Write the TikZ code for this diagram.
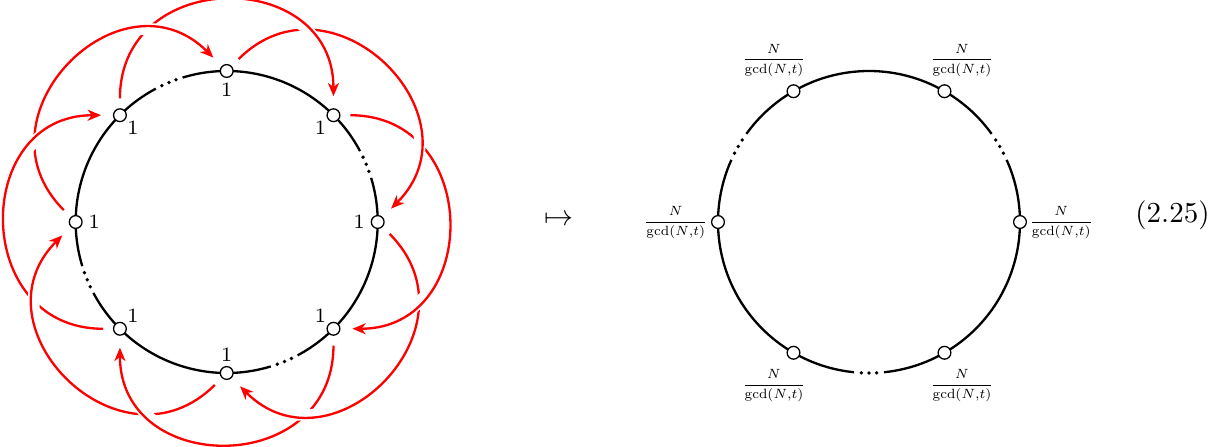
\documentclass[tikz,border=0pt]{standalone}
\usetikzlibrary{arrows.meta,calc}
\newcommand\gcdfrac{\scalebox{0.66}{$\displaystyle\frac{N}{\gcd(N{,}t)}$}}
\begin{document}
\begin{tikzpicture}[x=0.345pt,y=0.345pt,
  vtx/.style={circle,draw,fill=white,inner sep=0pt,minimum size=4.4pt,line width=0.45pt},
  ring/.style={line width=0.8pt},
  redline/.style={red,line width=0.8pt,-{Stealth[length=4.6pt,width=3.8pt,inset=1.4pt]},shorten <=3.4pt,shorten >=4.1pt},
  gapline/.style={white,line width=4pt,shorten <=3.4pt,shorten >=4.1pt},
  one/.style={font=\scriptsize,inner sep=0pt},
  fraclabel/.style={font=\scriptsize,inner sep=0pt}]
\useasboundingbox (0,0) rectangle (1230,447);
\coordinate (cL) at (226.7,225);
\coordinate (cR) at (869,225);
% ---------- left ring
\foreach \s/\e in {28/107,118/197,208/287,298/377}
  \draw[ring] ($(cL)+(\s:151)$) arc[start angle=\s,end angle=\e,radius=151];
\foreach \g in {22.5,112.5,202.5,292.5}
  \foreach \d in {-2.9,0,2.9}
    \fill ($(cL)+(\g+\d:151)$) circle (1.9);
\foreach \a in {0,45,...,315} {
  \node[vtx] (L\a) at ($(cL)+(\a:151)$) {};
  \node[one] (o\a) at ($(cL)+(\a:132.5)$) {$1$};
}
% ---------- red arrows: node a -> node a-90
\foreach \a in {135,180,225,270,315,0,45,90} {
  \pgfmathtruncatemacro\b{mod(\a+270,360)}
  \pgfmathtruncatemacro\o{mod(\a+315,360)}
  \draw[gapline] (L\a) to[out=\o,in=\o,looseness=1.7] (L\b);
  \draw[redline] (L\a) to[out=\o,in=\o,looseness=1.7] (L\b);
}
\begin{scope}
  \clip (302,407) circle (18);
  \draw[gapline] (L135) to[out=90,in=90,looseness=1.7] (L45);
  \draw[redline] (L135) to[out=90,in=90,looseness=1.7] (L45);
\end{scope}
% ---------- map
\node (mt) at (559,227) {$\mapsto$};
% ---------- right ring
\foreach \s/\e in {35.7/144.3,155.7/264.3,275.7/384.3}
  \draw[ring] ($(cR)+(\s:151)$) arc[start angle=\s,end angle=\e,radius=151];
\foreach \g in {30,150,270}
  \foreach \d in {-2.9,0,2.9}
    \fill ($(cR)+(\g+\d:151)$) circle (1.9);
\foreach \a in {0,60,...,300}
  \node[vtx] (R\a) at ($(cR)+(\a:151)$) {};
\node[fraclabel] (f120) at ($(R120)+(-19.5,31)$) {\gcdfrac};
\node[fraclabel] (f60)  at ($(R60)+(17.5,31)$) {\gcdfrac};
\node[fraclabel,anchor=east] (f180) at ($(R180)+(-10,-1)$) {\gcdfrac};
\node[fraclabel,anchor=west] (f0)   at ($(R0)+(9,-1)$) {\gcdfrac};
\node[fraclabel] (f240) at ($(R240)+(-19.5,-33)$) {\gcdfrac};
\node[fraclabel] (f300) at ($(R300)+(17.5,-33)$) {\gcdfrac};
% ---------- equation number
\node (eq) at (1172.5,231.5) {(2.25)};
\end{tikzpicture}
\end{document}
